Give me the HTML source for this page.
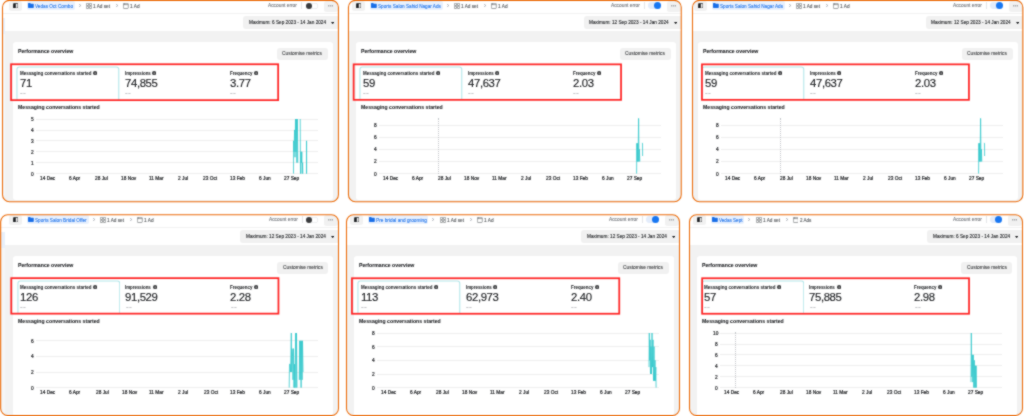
<!DOCTYPE html><html><head><meta charset="utf-8"><title>Ads performance</title><style>
*{margin:0;padding:0;box-sizing:border-box}
html,body{width:1024px;height:416px;overflow:hidden;background:#fff}
body{position:relative;font-family:"Liberation Sans",sans-serif}
.pn{position:absolute;overflow:hidden;border-radius:7px;background:#fff}
.ct{position:absolute;width:0;height:0}
.r,.t,.s{position:absolute}
.t{white-space:nowrap;transform-origin:0 0}
.bd{position:absolute;border:1.3px solid #eb6a08;border-radius:8px}
.ov{position:absolute;left:0;top:0}
#root{position:absolute;left:0;top:0;width:1024px;height:416px;will-change:transform;background:#fff}
</style></head><body><svg width="0" height="0" style="position:absolute"><filter id="soft" x="0" y="0" width="1024" height="416" filterUnits="userSpaceOnUse" color-interpolation-filters="sRGB"><feConvolveMatrix order="3" kernelMatrix="1 2 1 2 12 2 1 2 1" divisor="24" edgeMode="duplicate" preserveAlpha="true"/></filter></svg><div id="root" style="filter:url(#soft)"><div class="pn" style="left:2.5px;top:0.35px;width:335.95px;height:201.3px"><div class="ct" style="left:-2.5px;top:-0.35px"><div class="r" style="left:-20px;top:31px;width:380px;height:199px;background:#f2f2f2;"></div><div class="r" style="left:-20px;top:13px;width:380px;height:0.9px;background:#f2f2f2;"></div><div class="r" style="left:-20px;top:18px;width:24.6px;height:16.3px;background:#e8f0fb;"></div><div class="r" style="left:-20px;top:34.3px;width:24.6px;height:195.7px;background:#f5f6f7;"></div><div class="r" style="left:9px;top:1.4px;width:13.2px;height:10.1px;background:#f1f1f1;border-radius:2.5px;"></div><svg class="s" style="left:12.8px;top:2.9px" width="5.4" height="5.6" viewBox="0 0 5.4 5.6"><rect x="0.4" y="0.4" width="4.6" height="4.8" rx="1" fill="none" stroke="#1c1e21" stroke-width="0.8"/><rect x="0.4" y="0.4" width="2.4" height="4.8" rx="0.6" fill="#1c1e21"/></svg><div class="r" style="left:26.7px;top:1.3px;width:47.95px;height:9px;background:#e8f0fd;border-radius:2px;"></div><svg class="s" style="left:28px;top:3.2px" width="5.8" height="4.9" viewBox="0 0 5.8 4.9"><path d="M0 0.6 Q0 0 0.6 0 H2.2 L2.8 0.7 H5.2 Q5.8 0.7 5.8 1.3 V4.3 Q5.8 4.9 5.2 4.9 H0.6 Q0 4.9 0 4.3 Z" fill="#1a6fe8"/></svg><div class="t" style="left:34.95px;top:3px;padding-top:1.96px;font-size:52px;line-height:52px;color:#2a7bec;transform:scale(0.0901,0.1000);-webkit-text-stroke:1.3px #2a7bec;">Vedas Oct Combo</div><svg class="s" style="left:78.65px;top:4.1px" width="2.4" height="3" viewBox="0 0 2.4 3"><path d="M0.4 0.4 L2.0 1.5 L0.4 2.6" fill="none" stroke="#8d949e" stroke-width="0.6" stroke-linecap="round" stroke-linejoin="round"/></svg><svg class="s" style="left:85.95px;top:2.9px" width="6" height="5.8" viewBox="0 0 6 5.8"><g fill="none" stroke="#67696d" stroke-width="0.62"><rect x="0.3" y="0.3" width="2.3" height="2.2" rx="0.4"/><rect x="3.4" y="0.3" width="2.3" height="2.2" rx="0.4"/><rect x="0.3" y="3.3" width="2.3" height="2.2" rx="0.4"/><rect x="3.4" y="3.3" width="2.3" height="2.2" rx="0.4"/></g></svg><div class="t" style="left:93.25px;top:3px;padding-top:0.96px;font-size:52px;line-height:52px;color:#55585c;transform:scale(0.0905,0.1000);-webkit-text-stroke:1.2px #55585c;">1 Ad set</div><svg class="s" style="left:115.85px;top:4.1px" width="2.4" height="3" viewBox="0 0 2.4 3"><path d="M0.4 0.4 L2.0 1.5 L0.4 2.6" fill="none" stroke="#8d949e" stroke-width="0.6" stroke-linecap="round" stroke-linejoin="round"/></svg><svg class="s" style="left:123.15px;top:2.9px" width="5.6" height="5.8" viewBox="0 0 5.6 5.8"><g fill="none" stroke="#67696d" stroke-width="0.62"><rect x="0.3" y="0.3" width="5.0" height="5.2" rx="0.8"/><path d="M0.3 1.6 H5.3 M1.6 0.3 V1.6"/></g></svg><div class="t" style="left:130.45px;top:3px;padding-top:0.96px;font-size:52px;line-height:52px;color:#55585c;transform:scale(0.0922,0.1000);-webkit-text-stroke:1.2px #55585c;">1 Ad</div><div class="t" style="left:268.3px;top:3px;padding-top:2.15px;font-size:50px;line-height:50px;color:#76797e;transform:scale(0.0963,0.1000);-webkit-text-stroke:1.2px #76797e;">Account error</div><div class="r" style="left:301.3px;top:2.2px;width:0.6px;height:7.2px;background:#e4e6e9;"></div><div class="r" style="left:305.6px;top:2.7px;width:12px;height:6.4px;background:#ffffff;border-radius:3.2px;box-shadow:inset 0 0 0 0.5px #dfe1e4;"></div><div class="r" style="left:306px;top:3px;width:5.8px;height:5.6px;background:#3a3b3d;border-radius:3px;"></div><div class="r" style="left:323.5px;top:1.4px;width:14.3px;height:10.2px;background:#f1f1f1;border-radius:2.5px;"></div><svg class="s" style="left:327.6px;top:5px" width="5.6" height="1.6" viewBox="0 0 5.6 1.6"><g fill="#5a5d62"><circle cx="0.8" cy="0.8" r="0.6"/><circle cx="2.8" cy="0.8" r="0.6"/><circle cx="4.8" cy="0.8" r="0.6"/></g></svg><div class="r" style="left:243.1px;top:16.4px;width:96.9px;height:12.4px;background:#f1f1f1;border-radius:3px;"></div><div class="t" style="left:248.6px;top:19px;padding-top:0.61px;font-size:53px;line-height:53px;color:#1c1e21;transform:scale(0.0887,0.1000);-webkit-text-stroke:1.2px #1c1e21;">Maximum: 6 Sep 2023 - 14 Jan 2024</div><svg class="s" style="left:330.7px;top:21.7px" width="3.4" height="2.2" viewBox="0 0 3.4 2.2"><path d="M0 0 H3.4 L1.7 2.2 Z" fill="#1c1e21"/></svg><div class="r" style="left:12.7px;top:42px;width:320px;height:157.6px;background:#ffffff;border-radius:3px;"></div><div class="t" style="left:18px;top:48px;padding-top:7.93px;font-size:55px;line-height:55px;color:#1c1e21;font-weight:700;transform:scale(0.0942,0.1000);-webkit-text-stroke:1px #1c1e21;">Performance overview</div><div class="r" style="left:277.2px;top:47.8px;width:50.5px;height:12px;background:#f1f1f1;border-radius:3px;"></div><div class="t" style="left:282.3px;top:50px;padding-top:4.46px;font-size:52px;line-height:52px;color:#2e3033;transform:scale(0.0933,0.1000);-webkit-text-stroke:0.7px #2e3033;">Customise metrics</div><svg class="s" style="left:16.3px;top:65.8px" width="103.6" height="34.5" viewBox="0 0 103.6 34.5"><rect x="0.95" y="0.95" width="101.8" height="40" rx="2.4" fill="#fff" stroke="#b4e7ea" stroke-width="1.1"/></svg><div class="t" style="left:19.8px;top:70px;padding-top:8.62px;font-size:53px;line-height:53px;color:#1c1e21;font-weight:700;transform:scale(0.0851,0.1000);-webkit-text-stroke:0.5px #1c1e21;">Messaging conversations started</div><svg class="s" style="left:92.8px;top:70.9px" width="4.2" height="4.2" viewBox="0 0 4.2 4.2"><circle cx="2.1" cy="2.1" r="2.1" fill="#3a3b3d"/><rect x="1.8" y="1.8" width="0.6" height="1.5" fill="#fff"/><circle cx="2.1" cy="1.1" r="0.35" fill="#fff"/></svg><div class="t" style="left:20px;top:77px;padding-top:7.07px;font-size:114px;line-height:114px;color:#1c1e21;transform:scale(0.1000,0.1000);-webkit-text-stroke:1.5px #1c1e21;letter-spacing:-4px;">71</div><svg class="s" style="left:20.2px;top:92.6px" width="6" height="1.4" viewBox="0 0 6 1.4"><path d="M0.2 0.7 H2.5 M3.3 0.7 H5.6" stroke="#86898e" stroke-width="0.6"/></svg><div class="t" style="left:124.9px;top:70px;padding-top:8.62px;font-size:53px;line-height:53px;color:#1c1e21;font-weight:700;transform:scale(0.0826,0.1000);-webkit-text-stroke:0.5px #1c1e21;">Impressions</div><svg class="s" style="left:152.3px;top:70.9px" width="4.2" height="4.2" viewBox="0 0 4.2 4.2"><circle cx="2.1" cy="2.1" r="2.1" fill="#3a3b3d"/><rect x="1.8" y="1.8" width="0.6" height="1.5" fill="#fff"/><circle cx="2.1" cy="1.1" r="0.35" fill="#fff"/></svg><div class="t" style="left:125.1px;top:77px;padding-top:7.07px;font-size:114px;line-height:114px;color:#1c1e21;transform:scale(0.1000,0.1000);-webkit-text-stroke:1.5px #1c1e21;letter-spacing:-4px;">74,855</div><svg class="s" style="left:125.3px;top:92.6px" width="6" height="1.4" viewBox="0 0 6 1.4"><path d="M0.2 0.7 H2.5 M3.3 0.7 H5.6" stroke="#86898e" stroke-width="0.6"/></svg><div class="t" style="left:229.9px;top:70px;padding-top:8.62px;font-size:53px;line-height:53px;color:#1c1e21;font-weight:700;transform:scale(0.0836,0.1000);-webkit-text-stroke:0.5px #1c1e21;">Frequency</div><svg class="s" style="left:253.9px;top:70.9px" width="4.2" height="4.2" viewBox="0 0 4.2 4.2"><circle cx="2.1" cy="2.1" r="2.1" fill="#3a3b3d"/><rect x="1.8" y="1.8" width="0.6" height="1.5" fill="#fff"/><circle cx="2.1" cy="1.1" r="0.35" fill="#fff"/></svg><div class="t" style="left:230.1px;top:77px;padding-top:7.07px;font-size:114px;line-height:114px;color:#1c1e21;transform:scale(0.1000,0.1000);-webkit-text-stroke:1.5px #1c1e21;letter-spacing:-4px;">3.77</div><svg class="s" style="left:230.3px;top:92.6px" width="6" height="1.4" viewBox="0 0 6 1.4"><path d="M0.2 0.7 H2.5 M3.3 0.7 H5.6" stroke="#86898e" stroke-width="0.6"/></svg><div class="t" style="left:18px;top:104px;padding-top:4.39px;font-size:58px;line-height:58px;color:#1c1e21;font-weight:700;transform:scale(0.0890,0.1000);-webkit-text-stroke:0.8px #1c1e21;">Messaging conversations started</div><div class="r" style="left:36px;top:173.25px;width:282px;height:0.7px;background:#eeeeee;"></div><div class="t" style="left:31.03px;top:171px;padding-top:5.34px;font-size:48px;line-height:48px;color:#1c1e21;transform:scale(0.1000,0.1000);-webkit-text-stroke:2px #1c1e21;">0</div><div class="r" style="left:36px;top:162.33px;width:282px;height:0.7px;background:#eeeeee;"></div><div class="t" style="left:31.03px;top:160px;padding-top:6.14px;font-size:48px;line-height:48px;color:#1c1e21;transform:scale(0.1000,0.1000);-webkit-text-stroke:2px #1c1e21;">1</div><div class="r" style="left:36px;top:151.41px;width:282px;height:0.7px;background:#eeeeee;"></div><div class="t" style="left:31.03px;top:149px;padding-top:6.94px;font-size:48px;line-height:48px;color:#1c1e21;transform:scale(0.1000,0.1000);-webkit-text-stroke:2px #1c1e21;">2</div><div class="r" style="left:36px;top:140.49px;width:282px;height:0.7px;background:#eeeeee;"></div><div class="t" style="left:31.03px;top:138px;padding-top:7.74px;font-size:48px;line-height:48px;color:#1c1e21;transform:scale(0.1000,0.1000);-webkit-text-stroke:2px #1c1e21;">3</div><div class="r" style="left:36px;top:129.57px;width:282px;height:0.7px;background:#eeeeee;"></div><div class="t" style="left:31.03px;top:127px;padding-top:8.54px;font-size:48px;line-height:48px;color:#1c1e21;transform:scale(0.1000,0.1000);-webkit-text-stroke:2px #1c1e21;">4</div><div class="r" style="left:36px;top:118.65px;width:282px;height:0.7px;background:#eeeeee;"></div><div class="t" style="left:31.03px;top:116px;padding-top:9.34px;font-size:48px;line-height:48px;color:#1c1e21;transform:scale(0.1000,0.1000);-webkit-text-stroke:2px #1c1e21;">5</div><div class="t" style="left:39.9px;top:176px;padding-top:3.84px;font-size:48px;line-height:48px;color:#1c1e21;transform:scale(0.1000,0.1000);-webkit-text-stroke:2px #1c1e21;">14 Dec</div><div class="t" style="left:69.04px;top:176px;padding-top:3.84px;font-size:48px;line-height:48px;color:#1c1e21;transform:scale(0.1000,0.1000);-webkit-text-stroke:2px #1c1e21;">6 Apr</div><div class="t" style="left:95.38px;top:176px;padding-top:3.84px;font-size:48px;line-height:48px;color:#1c1e21;transform:scale(0.1000,0.1000);-webkit-text-stroke:2px #1c1e21;">28 Jul</div><div class="t" style="left:121.32px;top:176px;padding-top:3.84px;font-size:48px;line-height:48px;color:#1c1e21;transform:scale(0.1000,0.1000);-webkit-text-stroke:2px #1c1e21;">18 Nov</div><div class="t" style="left:148.77px;top:176px;padding-top:3.84px;font-size:48px;line-height:48px;color:#1c1e21;transform:scale(0.1000,0.1000);-webkit-text-stroke:2px #1c1e21;">11 Mar</div><div class="t" style="left:178.13px;top:176px;padding-top:3.84px;font-size:48px;line-height:48px;color:#1c1e21;transform:scale(0.1000,0.1000);-webkit-text-stroke:2px #1c1e21;">2 Jul</div><div class="t" style="left:203.27px;top:176px;padding-top:3.84px;font-size:48px;line-height:48px;color:#1c1e21;transform:scale(0.1000,0.1000);-webkit-text-stroke:2px #1c1e21;">23 Oct</div><div class="t" style="left:230.01px;top:176px;padding-top:3.84px;font-size:48px;line-height:48px;color:#1c1e21;transform:scale(0.1000,0.1000);-webkit-text-stroke:2px #1c1e21;">13 Feb</div><div class="t" style="left:258.75px;top:176px;padding-top:3.84px;font-size:48px;line-height:48px;color:#1c1e21;transform:scale(0.1000,0.1000);-webkit-text-stroke:2px #1c1e21;">6 Jun</div><div class="t" style="left:284.15px;top:176px;padding-top:3.84px;font-size:48px;line-height:48px;color:#1c1e21;transform:scale(0.1000,0.1000);-webkit-text-stroke:2px #1c1e21;">27 Sep</div><svg class="s" style="left:280px;top:110px" width="45" height="70" viewBox="0 0 45 70"><polyline points="13.5,63.6 13.6,30.84 14,41.76 14.6,19.92 15,47.22 15.5,9 15.9,41.76 16.4,9 16.9,52.68 17.4,9 17.8,52.68" fill="none" stroke="#33c8cc" stroke-width="0.8" stroke-linejoin="round"/><polyline points="20.2,9 20.5,63.6 20.9,41.76 21.4,52.68 21.8,41.76 22.2,63.6 22.6,52.68 22.8,63.6" fill="none" stroke="#33c8cc" stroke-width="0.8" stroke-linejoin="round"/><polyline points="26.5,63.6 26.55,30.84 26.6,63.6" fill="none" stroke="#33c8cc" stroke-width="0.8" stroke-linejoin="round"/></svg></div></div>
<div class="pn" style="left:348.45px;top:0.35px;width:332.8px;height:201.3px"><div class="ct" style="left:-5.45px;top:-0.35px"><div class="r" style="left:-20px;top:31px;width:380px;height:199px;background:#f2f2f2;"></div><div class="r" style="left:-20px;top:13px;width:380px;height:0.9px;background:#f2f2f2;"></div><div class="r" style="left:-20px;top:18px;width:24.6px;height:16.3px;background:#e8f0fb;"></div><div class="r" style="left:-20px;top:34.3px;width:24.6px;height:195.7px;background:#f5f6f7;"></div><div class="r" style="left:9px;top:1.4px;width:13.2px;height:10.1px;background:#f1f1f1;border-radius:2.5px;"></div><svg class="s" style="left:12.8px;top:2.9px" width="5.4" height="5.6" viewBox="0 0 5.4 5.6"><rect x="0.4" y="0.4" width="4.6" height="4.8" rx="1" fill="none" stroke="#1c1e21" stroke-width="0.8"/><rect x="0.4" y="0.4" width="2.4" height="4.8" rx="0.6" fill="#1c1e21"/></svg><div class="r" style="left:26.7px;top:1.3px;width:72.85px;height:9px;background:#e8f0fd;border-radius:2px;"></div><svg class="s" style="left:28px;top:3.2px" width="5.8" height="4.9" viewBox="0 0 5.8 4.9"><path d="M0 0.6 Q0 0 0.6 0 H2.2 L2.8 0.7 H5.2 Q5.8 0.7 5.8 1.3 V4.3 Q5.8 4.9 5.2 4.9 H0.6 Q0 4.9 0 4.3 Z" fill="#1a6fe8"/></svg><div class="t" style="left:34.95px;top:3px;padding-top:1.96px;font-size:52px;line-height:52px;color:#2a7bec;transform:scale(0.0895,0.1000);-webkit-text-stroke:1.3px #2a7bec;">Sports Salon Sahid Nagar Ads</div><svg class="s" style="left:103.55px;top:4.1px" width="2.4" height="3" viewBox="0 0 2.4 3"><path d="M0.4 0.4 L2.0 1.5 L0.4 2.6" fill="none" stroke="#8d949e" stroke-width="0.6" stroke-linecap="round" stroke-linejoin="round"/></svg><svg class="s" style="left:110.85px;top:2.9px" width="6" height="5.8" viewBox="0 0 6 5.8"><g fill="none" stroke="#67696d" stroke-width="0.62"><rect x="0.3" y="0.3" width="2.3" height="2.2" rx="0.4"/><rect x="3.4" y="0.3" width="2.3" height="2.2" rx="0.4"/><rect x="0.3" y="3.3" width="2.3" height="2.2" rx="0.4"/><rect x="3.4" y="3.3" width="2.3" height="2.2" rx="0.4"/></g></svg><div class="t" style="left:118.15px;top:3px;padding-top:0.96px;font-size:52px;line-height:52px;color:#55585c;transform:scale(0.0905,0.1000);-webkit-text-stroke:1.2px #55585c;">1 Ad set</div><svg class="s" style="left:140.75px;top:4.1px" width="2.4" height="3" viewBox="0 0 2.4 3"><path d="M0.4 0.4 L2.0 1.5 L0.4 2.6" fill="none" stroke="#8d949e" stroke-width="0.6" stroke-linecap="round" stroke-linejoin="round"/></svg><svg class="s" style="left:148.05px;top:2.9px" width="5.6" height="5.8" viewBox="0 0 5.6 5.8"><g fill="none" stroke="#67696d" stroke-width="0.62"><rect x="0.3" y="0.3" width="5.0" height="5.2" rx="0.8"/><path d="M0.3 1.6 H5.3 M1.6 0.3 V1.6"/></g></svg><div class="t" style="left:155.35px;top:3px;padding-top:0.96px;font-size:52px;line-height:52px;color:#55585c;transform:scale(0.0922,0.1000);-webkit-text-stroke:1.2px #55585c;">1 Ad</div><div class="t" style="left:268.3px;top:3px;padding-top:2.15px;font-size:50px;line-height:50px;color:#76797e;transform:scale(0.0963,0.1000);-webkit-text-stroke:1.2px #76797e;">Account error</div><div class="r" style="left:301.3px;top:2.2px;width:0.6px;height:7.2px;background:#e4e6e9;"></div><div class="r" style="left:305.3px;top:2.4px;width:12.5px;height:6.8px;background:#e3ecfb;border-radius:3.4px;"></div><div class="r" style="left:310.8px;top:2.2px;width:7px;height:7px;background:#1877f2;border-radius:3.5px;"></div><div class="r" style="left:323.5px;top:1.4px;width:14.3px;height:10.2px;background:#f1f1f1;border-radius:2.5px;"></div><svg class="s" style="left:327.6px;top:5px" width="5.6" height="1.6" viewBox="0 0 5.6 1.6"><g fill="#5a5d62"><circle cx="0.8" cy="0.8" r="0.6"/><circle cx="2.8" cy="0.8" r="0.6"/><circle cx="4.8" cy="0.8" r="0.6"/></g></svg><div class="r" style="left:240.6px;top:16.4px;width:99.4px;height:12.4px;background:#f1f1f1;border-radius:3px;"></div><div class="t" style="left:246.1px;top:19px;padding-top:0.61px;font-size:53px;line-height:53px;color:#1c1e21;transform:scale(0.0886,0.1000);-webkit-text-stroke:1.2px #1c1e21;">Maximum: 12 Sep 2023 - 14 Jan 2024</div><svg class="s" style="left:330.7px;top:21.7px" width="3.4" height="2.2" viewBox="0 0 3.4 2.2"><path d="M0 0 H3.4 L1.7 2.2 Z" fill="#1c1e21"/></svg><div class="r" style="left:12.7px;top:42px;width:320px;height:157.6px;background:#ffffff;border-radius:3px;"></div><div class="t" style="left:18px;top:48px;padding-top:7.93px;font-size:55px;line-height:55px;color:#1c1e21;font-weight:700;transform:scale(0.0942,0.1000);-webkit-text-stroke:1px #1c1e21;">Performance overview</div><div class="r" style="left:277.2px;top:47.8px;width:50.5px;height:12px;background:#f1f1f1;border-radius:3px;"></div><div class="t" style="left:282.3px;top:50px;padding-top:4.46px;font-size:52px;line-height:52px;color:#2e3033;transform:scale(0.0933,0.1000);-webkit-text-stroke:0.7px #2e3033;">Customise metrics</div><svg class="s" style="left:16.3px;top:65.8px" width="103.6" height="34.5" viewBox="0 0 103.6 34.5"><rect x="0.95" y="0.95" width="101.8" height="40" rx="2.4" fill="#fff" stroke="#b4e7ea" stroke-width="1.1"/></svg><div class="t" style="left:19.8px;top:70px;padding-top:8.62px;font-size:53px;line-height:53px;color:#1c1e21;font-weight:700;transform:scale(0.0851,0.1000);-webkit-text-stroke:0.5px #1c1e21;">Messaging conversations started</div><svg class="s" style="left:92.8px;top:70.9px" width="4.2" height="4.2" viewBox="0 0 4.2 4.2"><circle cx="2.1" cy="2.1" r="2.1" fill="#3a3b3d"/><rect x="1.8" y="1.8" width="0.6" height="1.5" fill="#fff"/><circle cx="2.1" cy="1.1" r="0.35" fill="#fff"/></svg><div class="t" style="left:20px;top:77px;padding-top:7.07px;font-size:114px;line-height:114px;color:#1c1e21;transform:scale(0.1000,0.1000);-webkit-text-stroke:1.5px #1c1e21;letter-spacing:-4px;">59</div><svg class="s" style="left:20.2px;top:92.6px" width="6" height="1.4" viewBox="0 0 6 1.4"><path d="M0.2 0.7 H2.5 M3.3 0.7 H5.6" stroke="#86898e" stroke-width="0.6"/></svg><div class="t" style="left:124.9px;top:70px;padding-top:8.62px;font-size:53px;line-height:53px;color:#1c1e21;font-weight:700;transform:scale(0.0826,0.1000);-webkit-text-stroke:0.5px #1c1e21;">Impressions</div><svg class="s" style="left:152.3px;top:70.9px" width="4.2" height="4.2" viewBox="0 0 4.2 4.2"><circle cx="2.1" cy="2.1" r="2.1" fill="#3a3b3d"/><rect x="1.8" y="1.8" width="0.6" height="1.5" fill="#fff"/><circle cx="2.1" cy="1.1" r="0.35" fill="#fff"/></svg><div class="t" style="left:125.1px;top:77px;padding-top:7.07px;font-size:114px;line-height:114px;color:#1c1e21;transform:scale(0.1000,0.1000);-webkit-text-stroke:1.5px #1c1e21;letter-spacing:-4px;">47,637</div><svg class="s" style="left:125.3px;top:92.6px" width="6" height="1.4" viewBox="0 0 6 1.4"><path d="M0.2 0.7 H2.5 M3.3 0.7 H5.6" stroke="#86898e" stroke-width="0.6"/></svg><div class="t" style="left:229.9px;top:70px;padding-top:8.62px;font-size:53px;line-height:53px;color:#1c1e21;font-weight:700;transform:scale(0.0836,0.1000);-webkit-text-stroke:0.5px #1c1e21;">Frequency</div><svg class="s" style="left:253.9px;top:70.9px" width="4.2" height="4.2" viewBox="0 0 4.2 4.2"><circle cx="2.1" cy="2.1" r="2.1" fill="#3a3b3d"/><rect x="1.8" y="1.8" width="0.6" height="1.5" fill="#fff"/><circle cx="2.1" cy="1.1" r="0.35" fill="#fff"/></svg><div class="t" style="left:230.1px;top:77px;padding-top:7.07px;font-size:114px;line-height:114px;color:#1c1e21;transform:scale(0.1000,0.1000);-webkit-text-stroke:1.5px #1c1e21;letter-spacing:-4px;">2.03</div><svg class="s" style="left:230.3px;top:92.6px" width="6" height="1.4" viewBox="0 0 6 1.4"><path d="M0.2 0.7 H2.5 M3.3 0.7 H5.6" stroke="#86898e" stroke-width="0.6"/></svg><div class="t" style="left:18px;top:104px;padding-top:4.39px;font-size:58px;line-height:58px;color:#1c1e21;font-weight:700;transform:scale(0.0890,0.1000);-webkit-text-stroke:0.8px #1c1e21;">Messaging conversations started</div><div class="r" style="left:36px;top:173.25px;width:282px;height:0.7px;background:#eeeeee;"></div><div class="t" style="left:31.03px;top:171px;padding-top:5.34px;font-size:48px;line-height:48px;color:#1c1e21;transform:scale(0.1000,0.1000);-webkit-text-stroke:2px #1c1e21;">0</div><div class="r" style="left:36px;top:161.12px;width:282px;height:0.7px;background:#eeeeee;"></div><div class="t" style="left:31.03px;top:159px;padding-top:4.01px;font-size:48px;line-height:48px;color:#1c1e21;transform:scale(0.1000,0.1000);-webkit-text-stroke:2px #1c1e21;">2</div><div class="r" style="left:36px;top:148.98px;width:282px;height:0.7px;background:#eeeeee;"></div><div class="t" style="left:31.03px;top:147px;padding-top:2.67px;font-size:48px;line-height:48px;color:#1c1e21;transform:scale(0.1000,0.1000);-webkit-text-stroke:2px #1c1e21;">4</div><div class="r" style="left:36px;top:136.85px;width:282px;height:0.7px;background:#eeeeee;"></div><div class="t" style="left:31.03px;top:135px;padding-top:1.34px;font-size:48px;line-height:48px;color:#1c1e21;transform:scale(0.1000,0.1000);-webkit-text-stroke:2px #1c1e21;">6</div><div class="r" style="left:36px;top:124.72px;width:282px;height:0.7px;background:#eeeeee;"></div><div class="t" style="left:31.03px;top:123px;padding-top:0.01px;font-size:48px;line-height:48px;color:#1c1e21;transform:scale(0.1000,0.1000);-webkit-text-stroke:2px #1c1e21;">8</div><div class="t" style="left:39.9px;top:176px;padding-top:3.84px;font-size:48px;line-height:48px;color:#1c1e21;transform:scale(0.1000,0.1000);-webkit-text-stroke:2px #1c1e21;">14 Dec</div><div class="t" style="left:69.04px;top:176px;padding-top:3.84px;font-size:48px;line-height:48px;color:#1c1e21;transform:scale(0.1000,0.1000);-webkit-text-stroke:2px #1c1e21;">6 Apr</div><div class="t" style="left:95.38px;top:176px;padding-top:3.84px;font-size:48px;line-height:48px;color:#1c1e21;transform:scale(0.1000,0.1000);-webkit-text-stroke:2px #1c1e21;">28 Jul</div><div class="t" style="left:121.32px;top:176px;padding-top:3.84px;font-size:48px;line-height:48px;color:#1c1e21;transform:scale(0.1000,0.1000);-webkit-text-stroke:2px #1c1e21;">18 Nov</div><div class="t" style="left:148.77px;top:176px;padding-top:3.84px;font-size:48px;line-height:48px;color:#1c1e21;transform:scale(0.1000,0.1000);-webkit-text-stroke:2px #1c1e21;">11 Mar</div><div class="t" style="left:178.13px;top:176px;padding-top:3.84px;font-size:48px;line-height:48px;color:#1c1e21;transform:scale(0.1000,0.1000);-webkit-text-stroke:2px #1c1e21;">2 Jul</div><div class="t" style="left:203.27px;top:176px;padding-top:3.84px;font-size:48px;line-height:48px;color:#1c1e21;transform:scale(0.1000,0.1000);-webkit-text-stroke:2px #1c1e21;">23 Oct</div><div class="t" style="left:230.01px;top:176px;padding-top:3.84px;font-size:48px;line-height:48px;color:#1c1e21;transform:scale(0.1000,0.1000);-webkit-text-stroke:2px #1c1e21;">13 Feb</div><div class="t" style="left:258.75px;top:176px;padding-top:3.84px;font-size:48px;line-height:48px;color:#1c1e21;transform:scale(0.1000,0.1000);-webkit-text-stroke:2px #1c1e21;">6 Jun</div><div class="t" style="left:284.15px;top:176px;padding-top:3.84px;font-size:48px;line-height:48px;color:#1c1e21;transform:scale(0.1000,0.1000);-webkit-text-stroke:2px #1c1e21;">27 Sep</div><div class="r" style="left:95px;top:118.4px;width:0;height:55.2px;border-left:0.6px dotted #c2c5c9"></div><svg class="s" style="left:280px;top:110px" width="45" height="70" viewBox="0 0 45 70"><polyline points="13.6,63.6 13.8,33.27 14.3,51.47 14.7,33.27 15.1,51.47 15.6,8.39 16,51.47 16.4,39.33 16.8,51.47" fill="none" stroke="#33c8cc" stroke-width="0.8" stroke-linejoin="round"/><polyline points="18.9,33.27 19.5,33.27 19.6,46.01" fill="none" stroke="#33c8cc" stroke-width="0.8" stroke-linejoin="round"/></svg></div></div>
<div class="pn" style="left:692.5px;top:0.35px;width:330.3px;height:201.3px"><div class="ct" style="left:-7.5px;top:-0.35px"><div class="r" style="left:-20px;top:31px;width:380px;height:199px;background:#f2f2f2;"></div><div class="r" style="left:-20px;top:13px;width:380px;height:0.9px;background:#f2f2f2;"></div><div class="r" style="left:-20px;top:18px;width:24.6px;height:16.3px;background:#e8f0fb;"></div><div class="r" style="left:-20px;top:34.3px;width:24.6px;height:195.7px;background:#f5f6f7;"></div><div class="r" style="left:9px;top:1.4px;width:13.2px;height:10.1px;background:#f1f1f1;border-radius:2.5px;"></div><svg class="s" style="left:12.8px;top:2.9px" width="5.4" height="5.6" viewBox="0 0 5.4 5.6"><rect x="0.4" y="0.4" width="4.6" height="4.8" rx="1" fill="none" stroke="#1c1e21" stroke-width="0.8"/><rect x="0.4" y="0.4" width="2.4" height="4.8" rx="0.6" fill="#1c1e21"/></svg><div class="r" style="left:26.7px;top:1.3px;width:72.95px;height:9px;background:#e8f0fd;border-radius:2px;"></div><svg class="s" style="left:28px;top:3.2px" width="5.8" height="4.9" viewBox="0 0 5.8 4.9"><path d="M0 0.6 Q0 0 0.6 0 H2.2 L2.8 0.7 H5.2 Q5.8 0.7 5.8 1.3 V4.3 Q5.8 4.9 5.2 4.9 H0.6 Q0 4.9 0 4.3 Z" fill="#1a6fe8"/></svg><div class="t" style="left:34.95px;top:3px;padding-top:1.96px;font-size:52px;line-height:52px;color:#2a7bec;transform:scale(0.0897,0.1000);-webkit-text-stroke:1.3px #2a7bec;">Sports Salon Sahid Nagar Ads</div><svg class="s" style="left:103.65px;top:4.1px" width="2.4" height="3" viewBox="0 0 2.4 3"><path d="M0.4 0.4 L2.0 1.5 L0.4 2.6" fill="none" stroke="#8d949e" stroke-width="0.6" stroke-linecap="round" stroke-linejoin="round"/></svg><svg class="s" style="left:110.95px;top:2.9px" width="6" height="5.8" viewBox="0 0 6 5.8"><g fill="none" stroke="#67696d" stroke-width="0.62"><rect x="0.3" y="0.3" width="2.3" height="2.2" rx="0.4"/><rect x="3.4" y="0.3" width="2.3" height="2.2" rx="0.4"/><rect x="0.3" y="3.3" width="2.3" height="2.2" rx="0.4"/><rect x="3.4" y="3.3" width="2.3" height="2.2" rx="0.4"/></g></svg><div class="t" style="left:118.25px;top:3px;padding-top:0.96px;font-size:52px;line-height:52px;color:#55585c;transform:scale(0.0905,0.1000);-webkit-text-stroke:1.2px #55585c;">1 Ad set</div><svg class="s" style="left:140.85px;top:4.1px" width="2.4" height="3" viewBox="0 0 2.4 3"><path d="M0.4 0.4 L2.0 1.5 L0.4 2.6" fill="none" stroke="#8d949e" stroke-width="0.6" stroke-linecap="round" stroke-linejoin="round"/></svg><svg class="s" style="left:148.15px;top:2.9px" width="5.6" height="5.8" viewBox="0 0 5.6 5.8"><g fill="none" stroke="#67696d" stroke-width="0.62"><rect x="0.3" y="0.3" width="5.0" height="5.2" rx="0.8"/><path d="M0.3 1.6 H5.3 M1.6 0.3 V1.6"/></g></svg><div class="t" style="left:155.45px;top:3px;padding-top:0.96px;font-size:52px;line-height:52px;color:#55585c;transform:scale(0.0922,0.1000);-webkit-text-stroke:1.2px #55585c;">1 Ad</div><div class="t" style="left:268.3px;top:3px;padding-top:2.15px;font-size:50px;line-height:50px;color:#76797e;transform:scale(0.0963,0.1000);-webkit-text-stroke:1.2px #76797e;">Account error</div><div class="r" style="left:301.3px;top:2.2px;width:0.6px;height:7.2px;background:#e4e6e9;"></div><div class="r" style="left:305.3px;top:2.4px;width:12.5px;height:6.8px;background:#e3ecfb;border-radius:3.4px;"></div><div class="r" style="left:310.8px;top:2.2px;width:7px;height:7px;background:#1877f2;border-radius:3.5px;"></div><div class="r" style="left:323.5px;top:1.4px;width:14.3px;height:10.2px;background:#f1f1f1;border-radius:2.5px;"></div><svg class="s" style="left:327.6px;top:5px" width="5.6" height="1.6" viewBox="0 0 5.6 1.6"><g fill="#5a5d62"><circle cx="0.8" cy="0.8" r="0.6"/><circle cx="2.8" cy="0.8" r="0.6"/><circle cx="4.8" cy="0.8" r="0.6"/></g></svg><div class="r" style="left:240.5px;top:16.4px;width:99.5px;height:12.4px;background:#f1f1f1;border-radius:3px;"></div><div class="t" style="left:246px;top:19px;padding-top:0.61px;font-size:53px;line-height:53px;color:#1c1e21;transform:scale(0.0887,0.1000);-webkit-text-stroke:1.2px #1c1e21;">Maximum: 12 Sep 2023 - 14 Jan 2024</div><svg class="s" style="left:330.7px;top:21.7px" width="3.4" height="2.2" viewBox="0 0 3.4 2.2"><path d="M0 0 H3.4 L1.7 2.2 Z" fill="#1c1e21"/></svg><div class="r" style="left:12.7px;top:42px;width:320px;height:157.6px;background:#ffffff;border-radius:3px;"></div><div class="t" style="left:18px;top:48px;padding-top:7.93px;font-size:55px;line-height:55px;color:#1c1e21;font-weight:700;transform:scale(0.0942,0.1000);-webkit-text-stroke:1px #1c1e21;">Performance overview</div><div class="r" style="left:277.2px;top:47.8px;width:50.5px;height:12px;background:#f1f1f1;border-radius:3px;"></div><div class="t" style="left:282.3px;top:50px;padding-top:4.46px;font-size:52px;line-height:52px;color:#2e3033;transform:scale(0.0933,0.1000);-webkit-text-stroke:0.7px #2e3033;">Customise metrics</div><svg class="s" style="left:16.3px;top:65.8px" width="103.6" height="34.5" viewBox="0 0 103.6 34.5"><rect x="0.95" y="0.95" width="101.8" height="40" rx="2.4" fill="#fff" stroke="#b4e7ea" stroke-width="1.1"/></svg><div class="t" style="left:19.8px;top:70px;padding-top:8.62px;font-size:53px;line-height:53px;color:#1c1e21;font-weight:700;transform:scale(0.0851,0.1000);-webkit-text-stroke:0.5px #1c1e21;">Messaging conversations started</div><svg class="s" style="left:92.8px;top:70.9px" width="4.2" height="4.2" viewBox="0 0 4.2 4.2"><circle cx="2.1" cy="2.1" r="2.1" fill="#3a3b3d"/><rect x="1.8" y="1.8" width="0.6" height="1.5" fill="#fff"/><circle cx="2.1" cy="1.1" r="0.35" fill="#fff"/></svg><div class="t" style="left:20px;top:77px;padding-top:7.07px;font-size:114px;line-height:114px;color:#1c1e21;transform:scale(0.1000,0.1000);-webkit-text-stroke:1.5px #1c1e21;letter-spacing:-4px;">59</div><svg class="s" style="left:20.2px;top:92.6px" width="6" height="1.4" viewBox="0 0 6 1.4"><path d="M0.2 0.7 H2.5 M3.3 0.7 H5.6" stroke="#86898e" stroke-width="0.6"/></svg><div class="t" style="left:124.9px;top:70px;padding-top:8.62px;font-size:53px;line-height:53px;color:#1c1e21;font-weight:700;transform:scale(0.0826,0.1000);-webkit-text-stroke:0.5px #1c1e21;">Impressions</div><svg class="s" style="left:152.3px;top:70.9px" width="4.2" height="4.2" viewBox="0 0 4.2 4.2"><circle cx="2.1" cy="2.1" r="2.1" fill="#3a3b3d"/><rect x="1.8" y="1.8" width="0.6" height="1.5" fill="#fff"/><circle cx="2.1" cy="1.1" r="0.35" fill="#fff"/></svg><div class="t" style="left:125.1px;top:77px;padding-top:7.07px;font-size:114px;line-height:114px;color:#1c1e21;transform:scale(0.1000,0.1000);-webkit-text-stroke:1.5px #1c1e21;letter-spacing:-4px;">47,637</div><svg class="s" style="left:125.3px;top:92.6px" width="6" height="1.4" viewBox="0 0 6 1.4"><path d="M0.2 0.7 H2.5 M3.3 0.7 H5.6" stroke="#86898e" stroke-width="0.6"/></svg><div class="t" style="left:229.9px;top:70px;padding-top:8.62px;font-size:53px;line-height:53px;color:#1c1e21;font-weight:700;transform:scale(0.0836,0.1000);-webkit-text-stroke:0.5px #1c1e21;">Frequency</div><svg class="s" style="left:253.9px;top:70.9px" width="4.2" height="4.2" viewBox="0 0 4.2 4.2"><circle cx="2.1" cy="2.1" r="2.1" fill="#3a3b3d"/><rect x="1.8" y="1.8" width="0.6" height="1.5" fill="#fff"/><circle cx="2.1" cy="1.1" r="0.35" fill="#fff"/></svg><div class="t" style="left:230.1px;top:77px;padding-top:7.07px;font-size:114px;line-height:114px;color:#1c1e21;transform:scale(0.1000,0.1000);-webkit-text-stroke:1.5px #1c1e21;letter-spacing:-4px;">2.03</div><svg class="s" style="left:230.3px;top:92.6px" width="6" height="1.4" viewBox="0 0 6 1.4"><path d="M0.2 0.7 H2.5 M3.3 0.7 H5.6" stroke="#86898e" stroke-width="0.6"/></svg><div class="t" style="left:18px;top:104px;padding-top:4.39px;font-size:58px;line-height:58px;color:#1c1e21;font-weight:700;transform:scale(0.0890,0.1000);-webkit-text-stroke:0.8px #1c1e21;">Messaging conversations started</div><div class="r" style="left:36px;top:173.25px;width:282px;height:0.7px;background:#eeeeee;"></div><div class="t" style="left:31.03px;top:171px;padding-top:5.34px;font-size:48px;line-height:48px;color:#1c1e21;transform:scale(0.1000,0.1000);-webkit-text-stroke:2px #1c1e21;">0</div><div class="r" style="left:36px;top:161.12px;width:282px;height:0.7px;background:#eeeeee;"></div><div class="t" style="left:31.03px;top:159px;padding-top:4.01px;font-size:48px;line-height:48px;color:#1c1e21;transform:scale(0.1000,0.1000);-webkit-text-stroke:2px #1c1e21;">2</div><div class="r" style="left:36px;top:148.98px;width:282px;height:0.7px;background:#eeeeee;"></div><div class="t" style="left:31.03px;top:147px;padding-top:2.67px;font-size:48px;line-height:48px;color:#1c1e21;transform:scale(0.1000,0.1000);-webkit-text-stroke:2px #1c1e21;">4</div><div class="r" style="left:36px;top:136.85px;width:282px;height:0.7px;background:#eeeeee;"></div><div class="t" style="left:31.03px;top:135px;padding-top:1.34px;font-size:48px;line-height:48px;color:#1c1e21;transform:scale(0.1000,0.1000);-webkit-text-stroke:2px #1c1e21;">6</div><div class="r" style="left:36px;top:124.72px;width:282px;height:0.7px;background:#eeeeee;"></div><div class="t" style="left:31.03px;top:123px;padding-top:0.01px;font-size:48px;line-height:48px;color:#1c1e21;transform:scale(0.1000,0.1000);-webkit-text-stroke:2px #1c1e21;">8</div><div class="t" style="left:39.9px;top:176px;padding-top:3.84px;font-size:48px;line-height:48px;color:#1c1e21;transform:scale(0.1000,0.1000);-webkit-text-stroke:2px #1c1e21;">14 Dec</div><div class="t" style="left:69.04px;top:176px;padding-top:3.84px;font-size:48px;line-height:48px;color:#1c1e21;transform:scale(0.1000,0.1000);-webkit-text-stroke:2px #1c1e21;">6 Apr</div><div class="t" style="left:95.38px;top:176px;padding-top:3.84px;font-size:48px;line-height:48px;color:#1c1e21;transform:scale(0.1000,0.1000);-webkit-text-stroke:2px #1c1e21;">28 Jul</div><div class="t" style="left:121.32px;top:176px;padding-top:3.84px;font-size:48px;line-height:48px;color:#1c1e21;transform:scale(0.1000,0.1000);-webkit-text-stroke:2px #1c1e21;">18 Nov</div><div class="t" style="left:148.77px;top:176px;padding-top:3.84px;font-size:48px;line-height:48px;color:#1c1e21;transform:scale(0.1000,0.1000);-webkit-text-stroke:2px #1c1e21;">11 Mar</div><div class="t" style="left:178.13px;top:176px;padding-top:3.84px;font-size:48px;line-height:48px;color:#1c1e21;transform:scale(0.1000,0.1000);-webkit-text-stroke:2px #1c1e21;">2 Jul</div><div class="t" style="left:203.27px;top:176px;padding-top:3.84px;font-size:48px;line-height:48px;color:#1c1e21;transform:scale(0.1000,0.1000);-webkit-text-stroke:2px #1c1e21;">23 Oct</div><div class="t" style="left:230.01px;top:176px;padding-top:3.84px;font-size:48px;line-height:48px;color:#1c1e21;transform:scale(0.1000,0.1000);-webkit-text-stroke:2px #1c1e21;">13 Feb</div><div class="t" style="left:258.75px;top:176px;padding-top:3.84px;font-size:48px;line-height:48px;color:#1c1e21;transform:scale(0.1000,0.1000);-webkit-text-stroke:2px #1c1e21;">6 Jun</div><div class="t" style="left:284.15px;top:176px;padding-top:3.84px;font-size:48px;line-height:48px;color:#1c1e21;transform:scale(0.1000,0.1000);-webkit-text-stroke:2px #1c1e21;">27 Sep</div><div class="r" style="left:95px;top:118.4px;width:0;height:55.2px;border-left:0.6px dotted #c2c5c9"></div><svg class="s" style="left:280px;top:110px" width="45" height="70" viewBox="0 0 45 70"><polyline points="13.6,63.6 13.8,33.27 14.3,51.47 14.7,33.27 15.1,51.47 15.6,8.39 16,51.47 16.4,39.33 16.8,51.47" fill="none" stroke="#33c8cc" stroke-width="0.8" stroke-linejoin="round"/><polyline points="18.9,33.27 19.5,33.27 19.6,46.01" fill="none" stroke="#33c8cc" stroke-width="0.8" stroke-linejoin="round"/></svg></div></div>
<div class="pn" style="left:0.7px;top:214.75px;width:337.8px;height:200.7px"><div class="ct" style="left:-0.4px;top:-0.75px"><div class="r" style="left:-20px;top:31px;width:380px;height:199px;background:#f2f2f2;"></div><div class="r" style="left:-20px;top:13px;width:380px;height:0.9px;background:#f2f2f2;"></div><div class="r" style="left:-20px;top:18px;width:24.6px;height:16.3px;background:#e8f0fb;"></div><div class="r" style="left:-20px;top:34.3px;width:24.6px;height:195.7px;background:#f5f6f7;"></div><div class="r" style="left:9px;top:1.4px;width:13.2px;height:10.1px;background:#f1f1f1;border-radius:2.5px;"></div><svg class="s" style="left:12.8px;top:2.9px" width="5.4" height="5.6" viewBox="0 0 5.4 5.6"><rect x="0.4" y="0.4" width="4.6" height="4.8" rx="1" fill="none" stroke="#1c1e21" stroke-width="0.8"/><rect x="0.4" y="0.4" width="2.4" height="4.8" rx="0.6" fill="#1c1e21"/></svg><div class="r" style="left:26.7px;top:1.3px;width:61.65px;height:9px;background:#e8f0fd;border-radius:2px;"></div><svg class="s" style="left:28px;top:3.2px" width="5.8" height="4.9" viewBox="0 0 5.8 4.9"><path d="M0 0.6 Q0 0 0.6 0 H2.2 L2.8 0.7 H5.2 Q5.8 0.7 5.8 1.3 V4.3 Q5.8 4.9 5.2 4.9 H0.6 Q0 4.9 0 4.3 Z" fill="#1a6fe8"/></svg><div class="t" style="left:34.95px;top:3px;padding-top:1.96px;font-size:52px;line-height:52px;color:#2a7bec;transform:scale(0.0900,0.1000);-webkit-text-stroke:1.3px #2a7bec;">Sports Salon Bridal Offer</div><svg class="s" style="left:92.35px;top:4.1px" width="2.4" height="3" viewBox="0 0 2.4 3"><path d="M0.4 0.4 L2.0 1.5 L0.4 2.6" fill="none" stroke="#8d949e" stroke-width="0.6" stroke-linecap="round" stroke-linejoin="round"/></svg><svg class="s" style="left:99.65px;top:2.9px" width="6" height="5.8" viewBox="0 0 6 5.8"><g fill="none" stroke="#67696d" stroke-width="0.62"><rect x="0.3" y="0.3" width="2.3" height="2.2" rx="0.4"/><rect x="3.4" y="0.3" width="2.3" height="2.2" rx="0.4"/><rect x="0.3" y="3.3" width="2.3" height="2.2" rx="0.4"/><rect x="3.4" y="3.3" width="2.3" height="2.2" rx="0.4"/></g></svg><div class="t" style="left:106.95px;top:3px;padding-top:0.96px;font-size:52px;line-height:52px;color:#55585c;transform:scale(0.0905,0.1000);-webkit-text-stroke:1.2px #55585c;">1 Ad set</div><svg class="s" style="left:129.55px;top:4.1px" width="2.4" height="3" viewBox="0 0 2.4 3"><path d="M0.4 0.4 L2.0 1.5 L0.4 2.6" fill="none" stroke="#8d949e" stroke-width="0.6" stroke-linecap="round" stroke-linejoin="round"/></svg><svg class="s" style="left:136.85px;top:2.9px" width="5.6" height="5.8" viewBox="0 0 5.6 5.8"><g fill="none" stroke="#67696d" stroke-width="0.62"><rect x="0.3" y="0.3" width="5.0" height="5.2" rx="0.8"/><path d="M0.3 1.6 H5.3 M1.6 0.3 V1.6"/></g></svg><div class="t" style="left:144.15px;top:3px;padding-top:0.96px;font-size:52px;line-height:52px;color:#55585c;transform:scale(0.0922,0.1000);-webkit-text-stroke:1.2px #55585c;">1 Ad</div><div class="t" style="left:268.3px;top:3px;padding-top:2.15px;font-size:50px;line-height:50px;color:#76797e;transform:scale(0.0963,0.1000);-webkit-text-stroke:1.2px #76797e;">Account error</div><div class="r" style="left:301.3px;top:2.2px;width:0.6px;height:7.2px;background:#e4e6e9;"></div><div class="r" style="left:305.6px;top:2.7px;width:12px;height:6.4px;background:#ffffff;border-radius:3.2px;box-shadow:inset 0 0 0 0.5px #dfe1e4;"></div><div class="r" style="left:306px;top:3px;width:5.8px;height:5.6px;background:#3a3b3d;border-radius:3px;"></div><div class="r" style="left:323.5px;top:1.4px;width:14.3px;height:10.2px;background:#f1f1f1;border-radius:2.5px;"></div><svg class="s" style="left:327.6px;top:5px" width="5.6" height="1.6" viewBox="0 0 5.6 1.6"><g fill="#5a5d62"><circle cx="0.8" cy="0.8" r="0.6"/><circle cx="2.8" cy="0.8" r="0.6"/><circle cx="4.8" cy="0.8" r="0.6"/></g></svg><div class="r" style="left:240.2px;top:16.4px;width:99.8px;height:12.4px;background:#f1f1f1;border-radius:3px;"></div><div class="t" style="left:245.7px;top:19px;padding-top:0.61px;font-size:53px;line-height:53px;color:#1c1e21;transform:scale(0.0890,0.1000);-webkit-text-stroke:1.2px #1c1e21;">Maximum: 12 Sep 2023 - 14 Jan 2024</div><svg class="s" style="left:330.7px;top:21.7px" width="3.4" height="2.2" viewBox="0 0 3.4 2.2"><path d="M0 0 H3.4 L1.7 2.2 Z" fill="#1c1e21"/></svg><div class="r" style="left:12.7px;top:42px;width:320px;height:160px;background:#ffffff;border-radius:3px;"></div><div class="t" style="left:18px;top:48px;padding-top:7.93px;font-size:55px;line-height:55px;color:#1c1e21;font-weight:700;transform:scale(0.0942,0.1000);-webkit-text-stroke:1px #1c1e21;">Performance overview</div><div class="r" style="left:277.2px;top:47.8px;width:50.5px;height:12px;background:#f1f1f1;border-radius:3px;"></div><div class="t" style="left:282.3px;top:50px;padding-top:4.46px;font-size:52px;line-height:52px;color:#2e3033;transform:scale(0.0933,0.1000);-webkit-text-stroke:0.7px #2e3033;">Customise metrics</div><svg class="s" style="left:16.3px;top:65.8px" width="103.6" height="34.5" viewBox="0 0 103.6 34.5"><rect x="0.95" y="0.95" width="101.8" height="40" rx="2.4" fill="#fff" stroke="#b4e7ea" stroke-width="1.1"/></svg><div class="t" style="left:19.8px;top:70px;padding-top:8.62px;font-size:53px;line-height:53px;color:#1c1e21;font-weight:700;transform:scale(0.0851,0.1000);-webkit-text-stroke:0.5px #1c1e21;">Messaging conversations started</div><svg class="s" style="left:92.8px;top:70.9px" width="4.2" height="4.2" viewBox="0 0 4.2 4.2"><circle cx="2.1" cy="2.1" r="2.1" fill="#3a3b3d"/><rect x="1.8" y="1.8" width="0.6" height="1.5" fill="#fff"/><circle cx="2.1" cy="1.1" r="0.35" fill="#fff"/></svg><div class="t" style="left:20px;top:77px;padding-top:7.07px;font-size:114px;line-height:114px;color:#1c1e21;transform:scale(0.1000,0.1000);-webkit-text-stroke:1.5px #1c1e21;letter-spacing:-4px;">126</div><svg class="s" style="left:20.2px;top:92.6px" width="6" height="1.4" viewBox="0 0 6 1.4"><path d="M0.2 0.7 H2.5 M3.3 0.7 H5.6" stroke="#86898e" stroke-width="0.6"/></svg><div class="t" style="left:124.9px;top:70px;padding-top:8.62px;font-size:53px;line-height:53px;color:#1c1e21;font-weight:700;transform:scale(0.0826,0.1000);-webkit-text-stroke:0.5px #1c1e21;">Impressions</div><svg class="s" style="left:152.3px;top:70.9px" width="4.2" height="4.2" viewBox="0 0 4.2 4.2"><circle cx="2.1" cy="2.1" r="2.1" fill="#3a3b3d"/><rect x="1.8" y="1.8" width="0.6" height="1.5" fill="#fff"/><circle cx="2.1" cy="1.1" r="0.35" fill="#fff"/></svg><div class="t" style="left:125.1px;top:77px;padding-top:7.07px;font-size:114px;line-height:114px;color:#1c1e21;transform:scale(0.1000,0.1000);-webkit-text-stroke:1.5px #1c1e21;letter-spacing:-4px;">91,529</div><svg class="s" style="left:125.3px;top:92.6px" width="6" height="1.4" viewBox="0 0 6 1.4"><path d="M0.2 0.7 H2.5 M3.3 0.7 H5.6" stroke="#86898e" stroke-width="0.6"/></svg><div class="t" style="left:229.9px;top:70px;padding-top:8.62px;font-size:53px;line-height:53px;color:#1c1e21;font-weight:700;transform:scale(0.0836,0.1000);-webkit-text-stroke:0.5px #1c1e21;">Frequency</div><svg class="s" style="left:253.9px;top:70.9px" width="4.2" height="4.2" viewBox="0 0 4.2 4.2"><circle cx="2.1" cy="2.1" r="2.1" fill="#3a3b3d"/><rect x="1.8" y="1.8" width="0.6" height="1.5" fill="#fff"/><circle cx="2.1" cy="1.1" r="0.35" fill="#fff"/></svg><div class="t" style="left:230.1px;top:77px;padding-top:7.07px;font-size:114px;line-height:114px;color:#1c1e21;transform:scale(0.1000,0.1000);-webkit-text-stroke:1.5px #1c1e21;letter-spacing:-4px;">2.28</div><svg class="s" style="left:230.3px;top:92.6px" width="6" height="1.4" viewBox="0 0 6 1.4"><path d="M0.2 0.7 H2.5 M3.3 0.7 H5.6" stroke="#86898e" stroke-width="0.6"/></svg><div class="t" style="left:18px;top:104px;padding-top:4.39px;font-size:58px;line-height:58px;color:#1c1e21;font-weight:700;transform:scale(0.0890,0.1000);-webkit-text-stroke:0.8px #1c1e21;">Messaging conversations started</div><div class="r" style="left:36px;top:173.25px;width:282px;height:0.7px;background:#eeeeee;"></div><div class="t" style="left:31.03px;top:171px;padding-top:5.34px;font-size:48px;line-height:48px;color:#1c1e21;transform:scale(0.1000,0.1000);-webkit-text-stroke:2px #1c1e21;">0</div><div class="r" style="left:36px;top:157.65px;width:282px;height:0.7px;background:#eeeeee;"></div><div class="t" style="left:31.03px;top:155px;padding-top:9.34px;font-size:48px;line-height:48px;color:#1c1e21;transform:scale(0.1000,0.1000);-webkit-text-stroke:2px #1c1e21;">2</div><div class="r" style="left:36px;top:142.05px;width:282px;height:0.7px;background:#eeeeee;"></div><div class="t" style="left:31.03px;top:140px;padding-top:3.34px;font-size:48px;line-height:48px;color:#1c1e21;transform:scale(0.1000,0.1000);-webkit-text-stroke:2px #1c1e21;">4</div><div class="r" style="left:36px;top:126.45px;width:282px;height:0.7px;background:#eeeeee;"></div><div class="t" style="left:31.03px;top:124px;padding-top:7.34px;font-size:48px;line-height:48px;color:#1c1e21;transform:scale(0.1000,0.1000);-webkit-text-stroke:2px #1c1e21;">6</div><div class="t" style="left:39.9px;top:176px;padding-top:3.84px;font-size:48px;line-height:48px;color:#1c1e21;transform:scale(0.1000,0.1000);-webkit-text-stroke:2px #1c1e21;">14 Dec</div><div class="t" style="left:69.04px;top:176px;padding-top:3.84px;font-size:48px;line-height:48px;color:#1c1e21;transform:scale(0.1000,0.1000);-webkit-text-stroke:2px #1c1e21;">6 Apr</div><div class="t" style="left:95.38px;top:176px;padding-top:3.84px;font-size:48px;line-height:48px;color:#1c1e21;transform:scale(0.1000,0.1000);-webkit-text-stroke:2px #1c1e21;">28 Jul</div><div class="t" style="left:121.32px;top:176px;padding-top:3.84px;font-size:48px;line-height:48px;color:#1c1e21;transform:scale(0.1000,0.1000);-webkit-text-stroke:2px #1c1e21;">18 Nov</div><div class="t" style="left:148.77px;top:176px;padding-top:3.84px;font-size:48px;line-height:48px;color:#1c1e21;transform:scale(0.1000,0.1000);-webkit-text-stroke:2px #1c1e21;">11 Mar</div><div class="t" style="left:178.13px;top:176px;padding-top:3.84px;font-size:48px;line-height:48px;color:#1c1e21;transform:scale(0.1000,0.1000);-webkit-text-stroke:2px #1c1e21;">2 Jul</div><div class="t" style="left:203.27px;top:176px;padding-top:3.84px;font-size:48px;line-height:48px;color:#1c1e21;transform:scale(0.1000,0.1000);-webkit-text-stroke:2px #1c1e21;">23 Oct</div><div class="t" style="left:230.01px;top:176px;padding-top:3.84px;font-size:48px;line-height:48px;color:#1c1e21;transform:scale(0.1000,0.1000);-webkit-text-stroke:2px #1c1e21;">13 Feb</div><div class="t" style="left:258.75px;top:176px;padding-top:3.84px;font-size:48px;line-height:48px;color:#1c1e21;transform:scale(0.1000,0.1000);-webkit-text-stroke:2px #1c1e21;">6 Jun</div><div class="t" style="left:284.15px;top:176px;padding-top:3.84px;font-size:48px;line-height:48px;color:#1c1e21;transform:scale(0.1000,0.1000);-webkit-text-stroke:2px #1c1e21;">27 Sep</div><svg class="s" style="left:280px;top:110px" width="45" height="70" viewBox="0 0 45 70"><polyline points="9.2,63.6 9.5,40.2 10.3,40.2 10.6,48 11.3,9 11.7,48 12,24.6 12.6,32.4 13,55.8 13.5,24.6 14,63.6 14.5,40.2 14.9,63.6 15.7,9 16.1,63.6 16.5,9 17,63.6" fill="none" stroke="#33c8cc" stroke-width="0.8" stroke-linejoin="round"/><polyline points="19.3,55.8 19.7,16.8 20.1,55.8 20.6,16.8 21.1,63.6 21.6,16.8 22.1,55.8 22.5,16.8 23,48" fill="none" stroke="#33c8cc" stroke-width="0.8" stroke-linejoin="round"/></svg></div></div>
<div class="pn" style="left:346.5px;top:214.75px;width:333px;height:200.7px"><div class="ct" style="left:-5.5px;top:-0.75px"><div class="r" style="left:-20px;top:31px;width:380px;height:199px;background:#f2f2f2;"></div><div class="r" style="left:-20px;top:13px;width:380px;height:0.9px;background:#f2f2f2;"></div><div class="r" style="left:-20px;top:18px;width:24.6px;height:16.3px;background:#e8f0fb;"></div><div class="r" style="left:-20px;top:34.3px;width:24.6px;height:195.7px;background:#f5f6f7;"></div><div class="r" style="left:9px;top:1.4px;width:13.2px;height:10.1px;background:#f1f1f1;border-radius:2.5px;"></div><svg class="s" style="left:12.8px;top:2.9px" width="5.4" height="5.6" viewBox="0 0 5.4 5.6"><rect x="0.4" y="0.4" width="4.6" height="4.8" rx="1" fill="none" stroke="#1c1e21" stroke-width="0.8"/><rect x="0.4" y="0.4" width="2.4" height="4.8" rx="0.6" fill="#1c1e21"/></svg><div class="r" style="left:26.7px;top:1.3px;width:60.75px;height:9px;background:#e8f0fd;border-radius:2px;"></div><svg class="s" style="left:28px;top:3.2px" width="5.8" height="4.9" viewBox="0 0 5.8 4.9"><path d="M0 0.6 Q0 0 0.6 0 H2.2 L2.8 0.7 H5.2 Q5.8 0.7 5.8 1.3 V4.3 Q5.8 4.9 5.2 4.9 H0.6 Q0 4.9 0 4.3 Z" fill="#1a6fe8"/></svg><div class="t" style="left:34.95px;top:3px;padding-top:1.96px;font-size:52px;line-height:52px;color:#2a7bec;transform:scale(0.0915,0.1000);-webkit-text-stroke:1.3px #2a7bec;">Pre bridal and grooming</div><svg class="s" style="left:91.45px;top:4.1px" width="2.4" height="3" viewBox="0 0 2.4 3"><path d="M0.4 0.4 L2.0 1.5 L0.4 2.6" fill="none" stroke="#8d949e" stroke-width="0.6" stroke-linecap="round" stroke-linejoin="round"/></svg><svg class="s" style="left:98.75px;top:2.9px" width="6" height="5.8" viewBox="0 0 6 5.8"><g fill="none" stroke="#67696d" stroke-width="0.62"><rect x="0.3" y="0.3" width="2.3" height="2.2" rx="0.4"/><rect x="3.4" y="0.3" width="2.3" height="2.2" rx="0.4"/><rect x="0.3" y="3.3" width="2.3" height="2.2" rx="0.4"/><rect x="3.4" y="3.3" width="2.3" height="2.2" rx="0.4"/></g></svg><div class="t" style="left:106.05px;top:3px;padding-top:0.96px;font-size:52px;line-height:52px;color:#55585c;transform:scale(0.0905,0.1000);-webkit-text-stroke:1.2px #55585c;">1 Ad set</div><svg class="s" style="left:128.65px;top:4.1px" width="2.4" height="3" viewBox="0 0 2.4 3"><path d="M0.4 0.4 L2.0 1.5 L0.4 2.6" fill="none" stroke="#8d949e" stroke-width="0.6" stroke-linecap="round" stroke-linejoin="round"/></svg><svg class="s" style="left:135.95px;top:2.9px" width="5.6" height="5.8" viewBox="0 0 5.6 5.8"><g fill="none" stroke="#67696d" stroke-width="0.62"><rect x="0.3" y="0.3" width="5.0" height="5.2" rx="0.8"/><path d="M0.3 1.6 H5.3 M1.6 0.3 V1.6"/></g></svg><div class="t" style="left:143.25px;top:3px;padding-top:0.96px;font-size:52px;line-height:52px;color:#55585c;transform:scale(0.0922,0.1000);-webkit-text-stroke:1.2px #55585c;">1 Ad</div><div class="t" style="left:268.3px;top:3px;padding-top:2.15px;font-size:50px;line-height:50px;color:#76797e;transform:scale(0.0963,0.1000);-webkit-text-stroke:1.2px #76797e;">Account error</div><div class="r" style="left:301.3px;top:2.2px;width:0.6px;height:7.2px;background:#e4e6e9;"></div><div class="r" style="left:305.3px;top:2.4px;width:12.5px;height:6.8px;background:#e3ecfb;border-radius:3.4px;"></div><div class="r" style="left:310.8px;top:2.2px;width:7px;height:7px;background:#1877f2;border-radius:3.5px;"></div><div class="r" style="left:323.5px;top:1.4px;width:14.3px;height:10.2px;background:#f1f1f1;border-radius:2.5px;"></div><svg class="s" style="left:327.6px;top:5px" width="5.6" height="1.6" viewBox="0 0 5.6 1.6"><g fill="#5a5d62"><circle cx="0.8" cy="0.8" r="0.6"/><circle cx="2.8" cy="0.8" r="0.6"/><circle cx="4.8" cy="0.8" r="0.6"/></g></svg><div class="r" style="left:240.3px;top:16.4px;width:99.7px;height:12.4px;background:#f1f1f1;border-radius:3px;"></div><div class="t" style="left:245.8px;top:19px;padding-top:0.61px;font-size:53px;line-height:53px;color:#1c1e21;transform:scale(0.0889,0.1000);-webkit-text-stroke:1.2px #1c1e21;">Maximum: 12 Sep 2023 - 14 Jan 2024</div><svg class="s" style="left:330.7px;top:21.7px" width="3.4" height="2.2" viewBox="0 0 3.4 2.2"><path d="M0 0 H3.4 L1.7 2.2 Z" fill="#1c1e21"/></svg><div class="r" style="left:12.7px;top:42px;width:320px;height:160px;background:#ffffff;border-radius:3px;"></div><div class="t" style="left:18px;top:48px;padding-top:7.93px;font-size:55px;line-height:55px;color:#1c1e21;font-weight:700;transform:scale(0.0942,0.1000);-webkit-text-stroke:1px #1c1e21;">Performance overview</div><div class="r" style="left:277.2px;top:47.8px;width:50.5px;height:12px;background:#f1f1f1;border-radius:3px;"></div><div class="t" style="left:282.3px;top:50px;padding-top:4.46px;font-size:52px;line-height:52px;color:#2e3033;transform:scale(0.0933,0.1000);-webkit-text-stroke:0.7px #2e3033;">Customise metrics</div><svg class="s" style="left:16.3px;top:65.8px" width="103.6" height="34.5" viewBox="0 0 103.6 34.5"><rect x="0.95" y="0.95" width="101.8" height="40" rx="2.4" fill="#fff" stroke="#b4e7ea" stroke-width="1.1"/></svg><div class="t" style="left:19.8px;top:70px;padding-top:8.62px;font-size:53px;line-height:53px;color:#1c1e21;font-weight:700;transform:scale(0.0851,0.1000);-webkit-text-stroke:0.5px #1c1e21;">Messaging conversations started</div><svg class="s" style="left:92.8px;top:70.9px" width="4.2" height="4.2" viewBox="0 0 4.2 4.2"><circle cx="2.1" cy="2.1" r="2.1" fill="#3a3b3d"/><rect x="1.8" y="1.8" width="0.6" height="1.5" fill="#fff"/><circle cx="2.1" cy="1.1" r="0.35" fill="#fff"/></svg><div class="t" style="left:20px;top:77px;padding-top:7.07px;font-size:114px;line-height:114px;color:#1c1e21;transform:scale(0.1000,0.1000);-webkit-text-stroke:1.5px #1c1e21;letter-spacing:-4px;">113</div><svg class="s" style="left:20.2px;top:92.6px" width="6" height="1.4" viewBox="0 0 6 1.4"><path d="M0.2 0.7 H2.5 M3.3 0.7 H5.6" stroke="#86898e" stroke-width="0.6"/></svg><div class="t" style="left:124.9px;top:70px;padding-top:8.62px;font-size:53px;line-height:53px;color:#1c1e21;font-weight:700;transform:scale(0.0826,0.1000);-webkit-text-stroke:0.5px #1c1e21;">Impressions</div><svg class="s" style="left:152.3px;top:70.9px" width="4.2" height="4.2" viewBox="0 0 4.2 4.2"><circle cx="2.1" cy="2.1" r="2.1" fill="#3a3b3d"/><rect x="1.8" y="1.8" width="0.6" height="1.5" fill="#fff"/><circle cx="2.1" cy="1.1" r="0.35" fill="#fff"/></svg><div class="t" style="left:125.1px;top:77px;padding-top:7.07px;font-size:114px;line-height:114px;color:#1c1e21;transform:scale(0.1000,0.1000);-webkit-text-stroke:1.5px #1c1e21;letter-spacing:-4px;">62,973</div><svg class="s" style="left:125.3px;top:92.6px" width="6" height="1.4" viewBox="0 0 6 1.4"><path d="M0.2 0.7 H2.5 M3.3 0.7 H5.6" stroke="#86898e" stroke-width="0.6"/></svg><div class="t" style="left:229.9px;top:70px;padding-top:8.62px;font-size:53px;line-height:53px;color:#1c1e21;font-weight:700;transform:scale(0.0836,0.1000);-webkit-text-stroke:0.5px #1c1e21;">Frequency</div><svg class="s" style="left:253.9px;top:70.9px" width="4.2" height="4.2" viewBox="0 0 4.2 4.2"><circle cx="2.1" cy="2.1" r="2.1" fill="#3a3b3d"/><rect x="1.8" y="1.8" width="0.6" height="1.5" fill="#fff"/><circle cx="2.1" cy="1.1" r="0.35" fill="#fff"/></svg><div class="t" style="left:230.1px;top:77px;padding-top:7.07px;font-size:114px;line-height:114px;color:#1c1e21;transform:scale(0.1000,0.1000);-webkit-text-stroke:1.5px #1c1e21;letter-spacing:-4px;">2.40</div><svg class="s" style="left:230.3px;top:92.6px" width="6" height="1.4" viewBox="0 0 6 1.4"><path d="M0.2 0.7 H2.5 M3.3 0.7 H5.6" stroke="#86898e" stroke-width="0.6"/></svg><div class="t" style="left:18px;top:104px;padding-top:4.39px;font-size:58px;line-height:58px;color:#1c1e21;font-weight:700;transform:scale(0.0890,0.1000);-webkit-text-stroke:0.8px #1c1e21;">Messaging conversations started</div><div class="r" style="left:36px;top:173.25px;width:282px;height:0.7px;background:#eeeeee;"></div><div class="t" style="left:31.03px;top:171px;padding-top:5.34px;font-size:48px;line-height:48px;color:#1c1e21;transform:scale(0.1000,0.1000);-webkit-text-stroke:2px #1c1e21;">0</div><div class="r" style="left:36px;top:159.6px;width:282px;height:0.7px;background:#eeeeee;"></div><div class="t" style="left:31.03px;top:157px;padding-top:8.84px;font-size:48px;line-height:48px;color:#1c1e21;transform:scale(0.1000,0.1000);-webkit-text-stroke:2px #1c1e21;">2</div><div class="r" style="left:36px;top:145.95px;width:282px;height:0.7px;background:#eeeeee;"></div><div class="t" style="left:31.03px;top:144px;padding-top:2.34px;font-size:48px;line-height:48px;color:#1c1e21;transform:scale(0.1000,0.1000);-webkit-text-stroke:2px #1c1e21;">4</div><div class="r" style="left:36px;top:132.3px;width:282px;height:0.7px;background:#eeeeee;"></div><div class="t" style="left:31.03px;top:130px;padding-top:5.84px;font-size:48px;line-height:48px;color:#1c1e21;transform:scale(0.1000,0.1000);-webkit-text-stroke:2px #1c1e21;">6</div><div class="r" style="left:36px;top:118.65px;width:282px;height:0.7px;background:#eeeeee;"></div><div class="t" style="left:31.03px;top:116px;padding-top:9.34px;font-size:48px;line-height:48px;color:#1c1e21;transform:scale(0.1000,0.1000);-webkit-text-stroke:2px #1c1e21;">8</div><div class="t" style="left:39.9px;top:176px;padding-top:3.84px;font-size:48px;line-height:48px;color:#1c1e21;transform:scale(0.1000,0.1000);-webkit-text-stroke:2px #1c1e21;">14 Dec</div><div class="t" style="left:69.04px;top:176px;padding-top:3.84px;font-size:48px;line-height:48px;color:#1c1e21;transform:scale(0.1000,0.1000);-webkit-text-stroke:2px #1c1e21;">6 Apr</div><div class="t" style="left:95.38px;top:176px;padding-top:3.84px;font-size:48px;line-height:48px;color:#1c1e21;transform:scale(0.1000,0.1000);-webkit-text-stroke:2px #1c1e21;">28 Jul</div><div class="t" style="left:121.32px;top:176px;padding-top:3.84px;font-size:48px;line-height:48px;color:#1c1e21;transform:scale(0.1000,0.1000);-webkit-text-stroke:2px #1c1e21;">18 Nov</div><div class="t" style="left:148.77px;top:176px;padding-top:3.84px;font-size:48px;line-height:48px;color:#1c1e21;transform:scale(0.1000,0.1000);-webkit-text-stroke:2px #1c1e21;">11 Mar</div><div class="t" style="left:178.13px;top:176px;padding-top:3.84px;font-size:48px;line-height:48px;color:#1c1e21;transform:scale(0.1000,0.1000);-webkit-text-stroke:2px #1c1e21;">2 Jul</div><div class="t" style="left:203.27px;top:176px;padding-top:3.84px;font-size:48px;line-height:48px;color:#1c1e21;transform:scale(0.1000,0.1000);-webkit-text-stroke:2px #1c1e21;">23 Oct</div><div class="t" style="left:230.01px;top:176px;padding-top:3.84px;font-size:48px;line-height:48px;color:#1c1e21;transform:scale(0.1000,0.1000);-webkit-text-stroke:2px #1c1e21;">13 Feb</div><div class="t" style="left:258.75px;top:176px;padding-top:3.84px;font-size:48px;line-height:48px;color:#1c1e21;transform:scale(0.1000,0.1000);-webkit-text-stroke:2px #1c1e21;">6 Jun</div><div class="t" style="left:284.15px;top:176px;padding-top:3.84px;font-size:48px;line-height:48px;color:#1c1e21;transform:scale(0.1000,0.1000);-webkit-text-stroke:2px #1c1e21;">27 Sep</div><svg class="s" style="left:280px;top:110px" width="45" height="70" viewBox="0 0 45 70"><polyline points="28,43.12 28.3,9 28.7,36.3 29.1,15.82 29.5,49.95 30,22.65 30.5,49.95 31,9 31.5,43.12 32,15.82 32.5,56.78 33,22.65 33.5,56.78 34,36.3 34.4,56.78 34.8,43.12 35.1,63.6" fill="none" stroke="#33c8cc" stroke-width="0.8" stroke-linejoin="round"/></svg></div></div>
<div class="pn" style="left:689.5px;top:214.75px;width:333px;height:200.7px"><div class="ct" style="left:-5.3px;top:-0.75px"><div class="r" style="left:-20px;top:31px;width:380px;height:199px;background:#f2f2f2;"></div><div class="r" style="left:-20px;top:13px;width:380px;height:0.9px;background:#f2f2f2;"></div><div class="r" style="left:-20px;top:18px;width:24.6px;height:16.3px;background:#e8f0fb;"></div><div class="r" style="left:-20px;top:34.3px;width:24.6px;height:195.7px;background:#f5f6f7;"></div><div class="r" style="left:9px;top:1.4px;width:13.2px;height:10.1px;background:#f1f1f1;border-radius:2.5px;"></div><svg class="s" style="left:12.8px;top:2.9px" width="5.4" height="5.6" viewBox="0 0 5.4 5.6"><rect x="0.4" y="0.4" width="4.6" height="4.8" rx="1" fill="none" stroke="#1c1e21" stroke-width="0.8"/><rect x="0.4" y="0.4" width="2.4" height="4.8" rx="0.6" fill="#1c1e21"/></svg><div class="r" style="left:26.7px;top:1.3px;width:33.45px;height:9px;background:#e8f0fd;border-radius:2px;"></div><svg class="s" style="left:28px;top:3.2px" width="5.8" height="4.9" viewBox="0 0 5.8 4.9"><path d="M0 0.6 Q0 0 0.6 0 H2.2 L2.8 0.7 H5.2 Q5.8 0.7 5.8 1.3 V4.3 Q5.8 4.9 5.2 4.9 H0.6 Q0 4.9 0 4.3 Z" fill="#1a6fe8"/></svg><div class="t" style="left:34.95px;top:3px;padding-top:1.96px;font-size:52px;line-height:52px;color:#2a7bec;transform:scale(0.0884,0.1000);-webkit-text-stroke:1.3px #2a7bec;">Vedas Sept</div><svg class="s" style="left:64.15px;top:4.1px" width="2.4" height="3" viewBox="0 0 2.4 3"><path d="M0.4 0.4 L2.0 1.5 L0.4 2.6" fill="none" stroke="#8d949e" stroke-width="0.6" stroke-linecap="round" stroke-linejoin="round"/></svg><svg class="s" style="left:71.45px;top:2.9px" width="6" height="5.8" viewBox="0 0 6 5.8"><g fill="none" stroke="#67696d" stroke-width="0.62"><rect x="0.3" y="0.3" width="2.3" height="2.2" rx="0.4"/><rect x="3.4" y="0.3" width="2.3" height="2.2" rx="0.4"/><rect x="0.3" y="3.3" width="2.3" height="2.2" rx="0.4"/><rect x="3.4" y="3.3" width="2.3" height="2.2" rx="0.4"/></g></svg><div class="t" style="left:78.75px;top:3px;padding-top:0.96px;font-size:52px;line-height:52px;color:#55585c;transform:scale(0.0905,0.1000);-webkit-text-stroke:1.2px #55585c;">1 Ad set</div><svg class="s" style="left:101.35px;top:4.1px" width="2.4" height="3" viewBox="0 0 2.4 3"><path d="M0.4 0.4 L2.0 1.5 L0.4 2.6" fill="none" stroke="#8d949e" stroke-width="0.6" stroke-linecap="round" stroke-linejoin="round"/></svg><svg class="s" style="left:108.65px;top:2.9px" width="5.6" height="5.8" viewBox="0 0 5.6 5.8"><g fill="none" stroke="#67696d" stroke-width="0.62"><rect x="0.3" y="0.3" width="5.0" height="5.2" rx="0.8"/><path d="M0.3 1.6 H5.3 M1.6 0.3 V1.6"/></g></svg><div class="t" style="left:115.95px;top:3px;padding-top:0.96px;font-size:52px;line-height:52px;color:#55585c;transform:scale(0.0876,0.1000);-webkit-text-stroke:1.2px #55585c;">2 Ads</div><div class="t" style="left:268.3px;top:3px;padding-top:2.15px;font-size:50px;line-height:50px;color:#76797e;transform:scale(0.0963,0.1000);-webkit-text-stroke:1.2px #76797e;">Account error</div><div class="r" style="left:301.3px;top:2.2px;width:0.6px;height:7.2px;background:#e4e6e9;"></div><div class="r" style="left:305.3px;top:2.4px;width:12.5px;height:6.8px;background:#e3ecfb;border-radius:3.4px;"></div><div class="r" style="left:310.8px;top:2.2px;width:7px;height:7px;background:#1877f2;border-radius:3.5px;"></div><div class="r" style="left:323.5px;top:1.4px;width:14.3px;height:10.2px;background:#f1f1f1;border-radius:2.5px;"></div><svg class="s" style="left:327.6px;top:5px" width="5.6" height="1.6" viewBox="0 0 5.6 1.6"><g fill="#5a5d62"><circle cx="0.8" cy="0.8" r="0.6"/><circle cx="2.8" cy="0.8" r="0.6"/><circle cx="4.8" cy="0.8" r="0.6"/></g></svg><div class="r" style="left:243px;top:16.4px;width:97px;height:12.4px;background:#f1f1f1;border-radius:3px;"></div><div class="t" style="left:248.5px;top:19px;padding-top:0.61px;font-size:53px;line-height:53px;color:#1c1e21;transform:scale(0.0888,0.1000);-webkit-text-stroke:1.2px #1c1e21;">Maximum: 6 Sep 2023 - 14 Jan 2024</div><svg class="s" style="left:330.7px;top:21.7px" width="3.4" height="2.2" viewBox="0 0 3.4 2.2"><path d="M0 0 H3.4 L1.7 2.2 Z" fill="#1c1e21"/></svg><div class="r" style="left:12.7px;top:42px;width:320px;height:160px;background:#ffffff;border-radius:3px;"></div><div class="t" style="left:18px;top:48px;padding-top:7.93px;font-size:55px;line-height:55px;color:#1c1e21;font-weight:700;transform:scale(0.0942,0.1000);-webkit-text-stroke:1px #1c1e21;">Performance overview</div><div class="r" style="left:277.2px;top:47.8px;width:50.5px;height:12px;background:#f1f1f1;border-radius:3px;"></div><div class="t" style="left:282.3px;top:50px;padding-top:4.46px;font-size:52px;line-height:52px;color:#2e3033;transform:scale(0.0933,0.1000);-webkit-text-stroke:0.7px #2e3033;">Customise metrics</div><svg class="s" style="left:16.3px;top:65.8px" width="103.6" height="34.5" viewBox="0 0 103.6 34.5"><rect x="0.95" y="0.95" width="101.8" height="40" rx="2.4" fill="#fff" stroke="#b4e7ea" stroke-width="1.1"/></svg><div class="t" style="left:19.8px;top:70px;padding-top:8.62px;font-size:53px;line-height:53px;color:#1c1e21;font-weight:700;transform:scale(0.0851,0.1000);-webkit-text-stroke:0.5px #1c1e21;">Messaging conversations started</div><svg class="s" style="left:92.8px;top:70.9px" width="4.2" height="4.2" viewBox="0 0 4.2 4.2"><circle cx="2.1" cy="2.1" r="2.1" fill="#3a3b3d"/><rect x="1.8" y="1.8" width="0.6" height="1.5" fill="#fff"/><circle cx="2.1" cy="1.1" r="0.35" fill="#fff"/></svg><div class="t" style="left:20px;top:77px;padding-top:7.07px;font-size:114px;line-height:114px;color:#1c1e21;transform:scale(0.1000,0.1000);-webkit-text-stroke:1.5px #1c1e21;letter-spacing:-4px;">57</div><svg class="s" style="left:20.2px;top:92.6px" width="6" height="1.4" viewBox="0 0 6 1.4"><path d="M0.2 0.7 H2.5 M3.3 0.7 H5.6" stroke="#86898e" stroke-width="0.6"/></svg><div class="t" style="left:124.9px;top:70px;padding-top:8.62px;font-size:53px;line-height:53px;color:#1c1e21;font-weight:700;transform:scale(0.0826,0.1000);-webkit-text-stroke:0.5px #1c1e21;">Impressions</div><svg class="s" style="left:152.3px;top:70.9px" width="4.2" height="4.2" viewBox="0 0 4.2 4.2"><circle cx="2.1" cy="2.1" r="2.1" fill="#3a3b3d"/><rect x="1.8" y="1.8" width="0.6" height="1.5" fill="#fff"/><circle cx="2.1" cy="1.1" r="0.35" fill="#fff"/></svg><div class="t" style="left:125.1px;top:77px;padding-top:7.07px;font-size:114px;line-height:114px;color:#1c1e21;transform:scale(0.1000,0.1000);-webkit-text-stroke:1.5px #1c1e21;letter-spacing:-4px;">75,885</div><svg class="s" style="left:125.3px;top:92.6px" width="6" height="1.4" viewBox="0 0 6 1.4"><path d="M0.2 0.7 H2.5 M3.3 0.7 H5.6" stroke="#86898e" stroke-width="0.6"/></svg><div class="t" style="left:229.9px;top:70px;padding-top:8.62px;font-size:53px;line-height:53px;color:#1c1e21;font-weight:700;transform:scale(0.0836,0.1000);-webkit-text-stroke:0.5px #1c1e21;">Frequency</div><svg class="s" style="left:253.9px;top:70.9px" width="4.2" height="4.2" viewBox="0 0 4.2 4.2"><circle cx="2.1" cy="2.1" r="2.1" fill="#3a3b3d"/><rect x="1.8" y="1.8" width="0.6" height="1.5" fill="#fff"/><circle cx="2.1" cy="1.1" r="0.35" fill="#fff"/></svg><div class="t" style="left:230.1px;top:77px;padding-top:7.07px;font-size:114px;line-height:114px;color:#1c1e21;transform:scale(0.1000,0.1000);-webkit-text-stroke:1.5px #1c1e21;letter-spacing:-4px;">2.98</div><svg class="s" style="left:230.3px;top:92.6px" width="6" height="1.4" viewBox="0 0 6 1.4"><path d="M0.2 0.7 H2.5 M3.3 0.7 H5.6" stroke="#86898e" stroke-width="0.6"/></svg><div class="t" style="left:18px;top:104px;padding-top:4.39px;font-size:58px;line-height:58px;color:#1c1e21;font-weight:700;transform:scale(0.0890,0.1000);-webkit-text-stroke:0.8px #1c1e21;">Messaging conversations started</div><div class="r" style="left:36px;top:173.25px;width:282px;height:0.7px;background:#eeeeee;"></div><div class="t" style="left:31.03px;top:171px;padding-top:5.34px;font-size:48px;line-height:48px;color:#1c1e21;transform:scale(0.1000,0.1000);-webkit-text-stroke:2px #1c1e21;">0</div><div class="r" style="left:36px;top:162.33px;width:282px;height:0.7px;background:#eeeeee;"></div><div class="t" style="left:31.03px;top:160px;padding-top:6.14px;font-size:48px;line-height:48px;color:#1c1e21;transform:scale(0.1000,0.1000);-webkit-text-stroke:2px #1c1e21;">2</div><div class="r" style="left:36px;top:151.41px;width:282px;height:0.7px;background:#eeeeee;"></div><div class="t" style="left:31.03px;top:149px;padding-top:6.94px;font-size:48px;line-height:48px;color:#1c1e21;transform:scale(0.1000,0.1000);-webkit-text-stroke:2px #1c1e21;">4</div><div class="r" style="left:36px;top:140.49px;width:282px;height:0.7px;background:#eeeeee;"></div><div class="t" style="left:31.03px;top:138px;padding-top:7.74px;font-size:48px;line-height:48px;color:#1c1e21;transform:scale(0.1000,0.1000);-webkit-text-stroke:2px #1c1e21;">6</div><div class="r" style="left:36px;top:129.57px;width:282px;height:0.7px;background:#eeeeee;"></div><div class="t" style="left:31.03px;top:127px;padding-top:8.54px;font-size:48px;line-height:48px;color:#1c1e21;transform:scale(0.1000,0.1000);-webkit-text-stroke:2px #1c1e21;">8</div><div class="r" style="left:36px;top:118.65px;width:282px;height:0.7px;background:#eeeeee;"></div><div class="t" style="left:28.36px;top:116px;padding-top:9.34px;font-size:48px;line-height:48px;color:#1c1e21;transform:scale(0.1000,0.1000);-webkit-text-stroke:2px #1c1e21;">10</div><div class="t" style="left:39.9px;top:176px;padding-top:3.84px;font-size:48px;line-height:48px;color:#1c1e21;transform:scale(0.1000,0.1000);-webkit-text-stroke:2px #1c1e21;">14 Dec</div><div class="t" style="left:69.04px;top:176px;padding-top:3.84px;font-size:48px;line-height:48px;color:#1c1e21;transform:scale(0.1000,0.1000);-webkit-text-stroke:2px #1c1e21;">6 Apr</div><div class="t" style="left:95.38px;top:176px;padding-top:3.84px;font-size:48px;line-height:48px;color:#1c1e21;transform:scale(0.1000,0.1000);-webkit-text-stroke:2px #1c1e21;">28 Jul</div><div class="t" style="left:121.32px;top:176px;padding-top:3.84px;font-size:48px;line-height:48px;color:#1c1e21;transform:scale(0.1000,0.1000);-webkit-text-stroke:2px #1c1e21;">18 Nov</div><div class="t" style="left:148.77px;top:176px;padding-top:3.84px;font-size:48px;line-height:48px;color:#1c1e21;transform:scale(0.1000,0.1000);-webkit-text-stroke:2px #1c1e21;">11 Mar</div><div class="t" style="left:178.13px;top:176px;padding-top:3.84px;font-size:48px;line-height:48px;color:#1c1e21;transform:scale(0.1000,0.1000);-webkit-text-stroke:2px #1c1e21;">2 Jul</div><div class="t" style="left:203.27px;top:176px;padding-top:3.84px;font-size:48px;line-height:48px;color:#1c1e21;transform:scale(0.1000,0.1000);-webkit-text-stroke:2px #1c1e21;">23 Oct</div><div class="t" style="left:230.01px;top:176px;padding-top:3.84px;font-size:48px;line-height:48px;color:#1c1e21;transform:scale(0.1000,0.1000);-webkit-text-stroke:2px #1c1e21;">13 Feb</div><div class="t" style="left:258.75px;top:176px;padding-top:3.84px;font-size:48px;line-height:48px;color:#1c1e21;transform:scale(0.1000,0.1000);-webkit-text-stroke:2px #1c1e21;">6 Jun</div><div class="t" style="left:284.15px;top:176px;padding-top:3.84px;font-size:48px;line-height:48px;color:#1c1e21;transform:scale(0.1000,0.1000);-webkit-text-stroke:2px #1c1e21;">27 Sep</div><div class="r" style="left:51px;top:118.4px;width:0;height:55.2px;border-left:0.6px dotted #c2c5c9"></div><svg class="s" style="left:280px;top:110px" width="45" height="70" viewBox="0 0 45 70"><polyline points="7,58.14 7.3,9 7.8,52.68 8.3,30.84 8.8,58.14 9.3,30.84 9.8,63.6 10.3,36.3 10.8,63.6 11.3,41.76 11.8,63.6 12.1,41.76 12.4,63.6" fill="none" stroke="#33c8cc" stroke-width="0.8" stroke-linejoin="round"/></svg></div></div>
<svg class="ov" width="1024" height="416" viewBox="0 0 1024 416"><rect x="2.5" y="0.35" width="335.95" height="201.3" rx="7" fill="none" stroke="#eb6a08" stroke-width="1.05"/><rect x="11.05" y="64.25" width="267.1" height="35.9" fill="none" stroke="#ff2424" stroke-width="1.75"/><rect x="348.45" y="0.35" width="332.8" height="201.3" rx="7" fill="none" stroke="#eb6a08" stroke-width="1.05"/><rect x="353.65" y="64.35" width="267.4" height="35.5" fill="none" stroke="#ff2424" stroke-width="1.75"/><rect x="692.5" y="0.35" width="330.3" height="201.3" rx="7" fill="none" stroke="#eb6a08" stroke-width="1.05"/><rect x="701.95" y="64.35" width="267" height="35.5" fill="none" stroke="#ff2424" stroke-width="1.75"/><rect x="0.7" y="214.75" width="337.8" height="200.7" rx="7" fill="none" stroke="#eb6a08" stroke-width="1.05"/><rect x="11.25" y="278.15" width="267.2" height="35.5" fill="none" stroke="#ff2424" stroke-width="1.75"/><rect x="346.5" y="214.75" width="333" height="200.7" rx="7" fill="none" stroke="#eb6a08" stroke-width="1.05"/><rect x="351.95" y="278.25" width="267.3" height="35.5" fill="none" stroke="#ff2424" stroke-width="1.75"/><rect x="689.5" y="214.75" width="333" height="200.7" rx="7" fill="none" stroke="#eb6a08" stroke-width="1.05"/><rect x="702.15" y="278.25" width="266.9" height="35.5" fill="none" stroke="#ff2424" stroke-width="1.75"/></svg></div></body></html>
